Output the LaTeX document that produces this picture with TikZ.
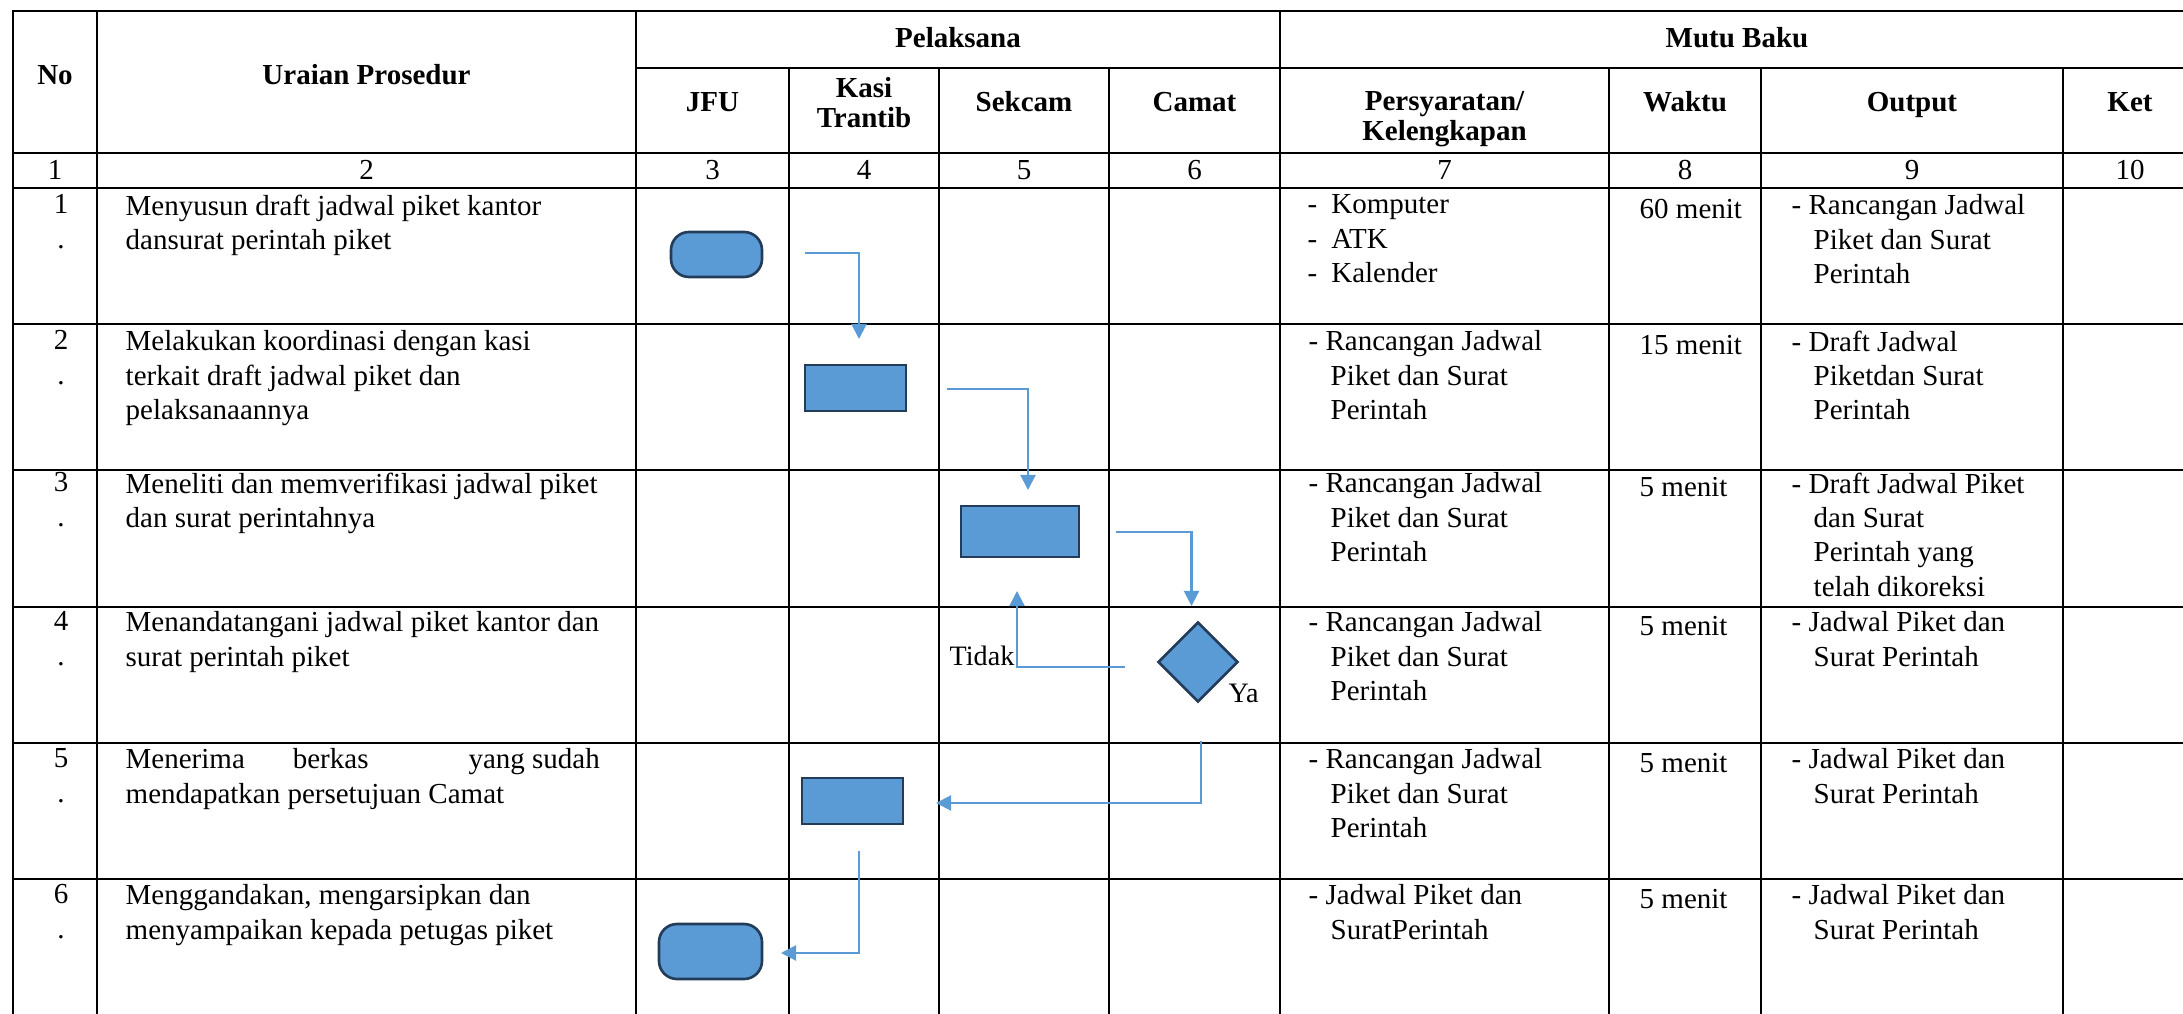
\documentclass[tikz,border=0pt]{standalone}
\usepackage{fontspec}
\setmainfont{Liberation Serif}
\usepackage{tikz}
\usetikzlibrary{arrows.meta,shapes.geometric}
\definecolor{shapefill}{RGB}{91,155,213}
\definecolor{shapeline}{RGB}{35,60,90}
\definecolor{connblue}{RGB}{91,155,213}
\newcommand{\cellfont}{\fontsize{8.25}{9.8}\selectfont}
\newcommand{\hdrfont}{\fontsize{8.25}{8.6}\selectfont\bfseries}
\newcommand{\ind}{\hspace*{0.22cm}}
\tikzset{
  tabline/.style={line width=0.75pt, black, line cap=rect},
  hdr/.style={anchor=base, inner sep=0pt, align=center, font=\hdrfont},
  num/.style={anchor=base, inner sep=0pt, align=center, font=\cellfont},
  % first baseline sits at the given point
  txt/.style={anchor=north west, yshift=6.86pt, inner sep=0pt, align=left,
              font=\cellfont, execute at begin node=\strut},
  rowno/.style={txt, anchor=north, align=center},
  proc/.style={draw=shapeline, fill=shapefill, line width=0.75pt,
               minimum width=1.01cm, minimum height=0.46cm, inner sep=0pt},
  term/.style={proc, rounded corners=1.8mm},
  decide/.style={diamond, draw=shapeline, fill=shapefill, line width=0.75pt,
                 minimum width=0.8cm, minimum height=0.8cm, inner sep=0pt},
  flowarr/.style={-{Triangle[length=1.5mm,width=1.5mm]}, connblue, line width=0.6pt},
  lbl/.style={inner sep=0pt, font=\fontsize{8}{9.6}\selectfont},
}

\begin{document}
\begin{tikzpicture}[x=1cm, y=-1cm]
  \useasboundingbox (0,0) rectangle (21.83,10.14);
  % --- table rules
  \foreach \x in {0.13,0.97,6.36,12.80}
    \draw[tabline] (\x,0.11) -- (\x,10.14);
  \foreach \x in {7.89,9.39,11.09,16.09,17.61,20.63}
    \draw[tabline] (\x,0.68) -- (\x,10.14);
  \foreach \y in {0.11,1.53,1.88,3.24,4.70,6.07,7.43,8.79}
    \draw[tabline] (0.13,\y) -- (21.83,\y);
  \draw[tabline] (6.36,0.68) -- (21.83,0.68);
  % --- header
  \node[hdr] (hno) at (0.55,0.85) {No};
  \node[hdr] (hurai) at (3.665,0.85) {Uraian Prosedur};
  \node[hdr] (hpel) at (9.58,0.48) {Pelaksana};
  \node[hdr] (hmutu) at (17.37,0.48) {Mutu Baku};
  \node[hdr] (hjfu) at (7.125,1.12) {JFU};
  \node[hdr] (hkasi) at (8.64,1.28) {Kasi\\Trantib};
  \node[hdr] (hsek) at (10.24,1.12) {Sekcam};
  \node[hdr] (hcamat) at (11.945,1.12) {Camat};
  \node[hdr] (hsyarat) at (14.445,1.41) {Persyaratan/\\Kelengkapan};
  \node[hdr] (hwaktu) at (16.85,1.12) {Waktu};
  \node[hdr] (hout) at (19.12,1.12) {Output};
  \node[hdr] (hket) at (21.30,1.12) {Ket};
  \foreach \x/\n in {0.55/1,3.665/2,7.125/3,8.64/4,10.24/5,11.945/6,14.445/7,16.85/8,19.12/9,21.30/10}
    \node[num] (col\n) at (\x,1.80) {\n};
  % --- rows
  \foreach \n/\y in {1/2.18,2/3.54,3/4.96,4/6.35,5/7.72,6/9.08}
    \node[rowno] (no\n) at (0.61,\y) {\n\\.};
  \node[txt] (urai1) at (1.25,2.18) {Menyusun draft jadwal piket kantor\\dansurat perintah piket};
  \node[txt] (urai2) at (1.25,3.54) {Melakukan koordinasi dengan kasi\\terkait draft jadwal piket dan\\pelaksanaannya};
  \node[txt] (urai3) at (1.25,4.96) {Meneliti dan memverifikasi jadwal piket\\dan surat perintahnya};
  \node[txt] (urai4) at (1.25,6.35) {Menandatangani jadwal piket kantor dan\\surat perintah piket};
  \node[txt] (urai5) at (1.25,7.72) {Menerima\hspace{0.48cm}berkas\hspace{1cm}yang sudah\\mendapatkan persetujuan Camat};
  \node[txt] (urai6) at (1.25,9.08) {Menggandakan, mengarsipkan dan\\menyampaikan kepada petugas piket};
  % --- persyaratan
  \node[txt] (syarat1) at (13.07,2.18) {-\hspace{0.14cm}Komputer\\-\hspace{0.14cm}ATK\\-\hspace{0.14cm}Kalender};
  \foreach \n/\y in {2/3.54,3/4.96,4/6.35,5/7.72}
    \node[txt] (syarat\n) at (13.08,\y) {- Rancangan Jadwal\\\ind Piket dan Surat\\\ind Perintah};
  \node[txt] (syarat6) at (13.08,9.08) {- Jadwal Piket dan\\\ind SuratPerintah};
  % --- waktu
  \foreach \n/\y/\t in {1/2.18/60 menit,2/3.54/15 menit,3/4.96/5 menit,4/6.35/5 menit,5/7.72/5 menit,6/9.08/5 menit}
    \node[txt] (waktu\n) at (16.39,\y) {\t};
  % --- output
  \node[txt] (out1) at (17.91,2.18) {- Rancangan Jadwal\\\ind Piket dan Surat\\\ind Perintah};
  \node[txt] (out2) at (17.91,3.54) {- Draft Jadwal\\\ind Piketdan Surat\\\ind Perintah};
  \node[txt] (out3) at (17.91,4.96) {- Draft Jadwal Piket\\\ind dan Surat\\\ind Perintah yang\\\ind telah dikoreksi};
  \foreach \n/\y in {4/6.35,5/7.72,6/9.08}
    \node[txt] (out\n) at (17.91,\y) {- Jadwal Piket dan\\\ind Surat Perintah};
  % --- flow shapes
  \node[term, minimum width=0.91cm, minimum height=0.45cm] (start) at (7.165,2.545) {};
  \node[proc] (koord) at (8.555,3.88) {};
  \node[proc, minimum width=1.18cm, minimum height=0.51cm] (verif) at (10.20,5.315) {};
  \node[decide] (ttd) at (11.98,6.62) {};
  \node[proc] (terima) at (8.525,8.01) {};
  \node[term, minimum width=1.03cm, minimum height=0.55cm] (selesai) at (7.105,9.515) {};
  % --- connectors
  \coordinate (a1) at (8.05,2.53);    \coordinate (a1e) at (8.59,3.39);
  \draw[flowarr] (a1) -| (a1e);
  \coordinate (a2) at (9.47,3.89);    \coordinate (a2e) at (10.28,4.90);
  \draw[flowarr] (a2) -| (a2e);
  \coordinate (a3) at (11.16,5.32);   \coordinate (a3e) at (11.915,6.06);
  \draw[flowarr] (a3) -| (a3e);
  \coordinate (tdk) at (11.245,6.67); \coordinate (tdke) at (10.17,5.91);
  \draw[flowarr] (tdk) -| (tdke);
  \coordinate (ya) at (12.01,7.41);   \coordinate (yae) at (9.36,8.03);
  \draw[flowarr] (ya) |- (yae);
  \coordinate (a5) at (8.59,8.51);    \coordinate (a5e) at (7.81,9.53);
  \draw[flowarr] (a5) |- (a5e);
  \node[lbl, anchor=base east] (ltidak) at (10.15,6.65) {Tidak};
  \node[lbl, anchor=base west] (lya) at (12.28,7.02) {Ya};
\end{tikzpicture}
\end{document}
